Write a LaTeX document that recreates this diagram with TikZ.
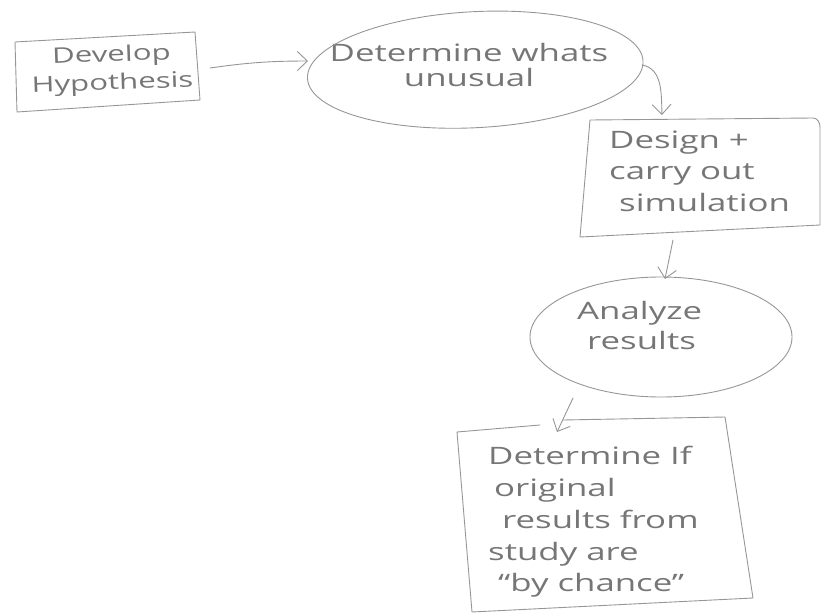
\documentclass[tikz,border=0pt]{standalone}
\usepackage{fontspec}
\setmainfont{Open Sans}[FakeStretch=1.45]
\usetikzlibrary{arrows.meta}

\definecolor{pencil}{RGB}{150,150,150}
\definecolor{lead}{RGB}{118,118,118}

\tikzset{
  sketch/.style={draw=pencil, line width=0.9pt, line join=round, line cap=round},
  flow/.style={sketch, -{Straight Barb[length=10pt,width=19pt,line width=0.9pt]}},
  label/.style={inner sep=0pt, text=lead, font=\fontsize{24}{#1}\selectfont},
}

\begin{document}
\begin{tikzpicture}[x=1pt,y=1pt]
  \useasboundingbox (0,0) rectangle (822,-615);

  % step texts
  \node[label=28, font=\fontsize{21.5}{28}\selectfont, align=center, rotate=2] (hyp) at (112,-70) {Develop\\Hypothesis};
  \node[label=25, align=center] (det) at (469,-65) {Determine whats\\unusual};
  \node[label=31.5, align=left, anchor=west] (sim) at (609,-171)
       {Design +\\carry out\\\hspace*{10pt}simulation};
  \node[label=30, align=left, anchor=west] (ana) at (577,-325)
       {Analyze\\\hspace*{10pt}results};
  \node[label=31.75, align=left, anchor=west] (ch) at (488,-522)
       {Determine If\\\hspace*{6pt}original\\\hspace*{14pt}results from\\study are\\\hspace*{10pt}``by chance''};

  % outlines around the steps
  \draw[sketch] ([shift={(-97,28)}]hyp.center) -- ([shift={(83,38)}]hyp.center)
       -- ([shift={(88,-30)}]hyp.center) -- ([shift={(-95,-42)}]hyp.center) -- cycle;
  \draw[sketch, shift={(det.center)}, rotate=3] (6,-5) ellipse [x radius=168, y radius=58];
  \draw[sketch] ([shift={(-19,51)}]sim.west) -- ([shift={(204,53)}]sim.west)
       to[out=0,in=90] ([shift={(211,44)}]sim.west) -- ([shift={(211,-54)}]sim.west)
       -- ([shift={(-29,-66)}]sim.west) -- cycle;
  \draw[sketch] ([shift={(84,-12)}]ana.west) ellipse [x radius=131, y radius=60];
  \draw[sketch] ([shift={(52,97)}]ch.west) -- ([shift={(-31,90)}]ch.west)
       -- ([shift={(-16,-90)}]ch.west) -- ([shift={(265,-76)}]ch.west)
       -- ([shift={(237,105)}]ch.west) -- ([shift={(75,102)}]ch.west);

  % connectors
  \draw[flow] ([shift={(98,2)}]hyp.center) to[bend left=4] ([shift={(-161,4)}]det.center);
  \draw[flow] ([shift={(173,0)}]det.center) to[out=-10,in=92] ([shift={(53,56)}]sim.west);
  \draw[flow] ([shift={(64,-69)}]sim.west) -- ([shift={(88,46)}]ana.west);
  \draw[flow] ([shift={(-4,-73)}]ana.west) -- ([shift={(69,90)}]ch.west);
\end{tikzpicture}
\end{document}
